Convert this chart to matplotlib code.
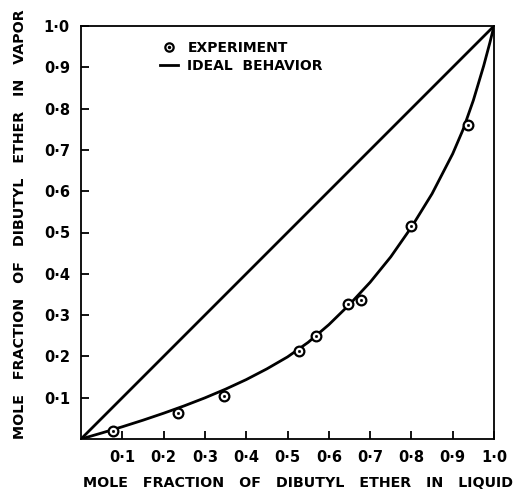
import matplotlib
matplotlib.use("Agg")
import matplotlib.pyplot as plt
from matplotlib.lines import Line2D

# experimental points (liquid x, vapor y)
x_exp = [0.078, 0.235, 0.347, 0.529, 0.570, 0.647, 0.677, 0.800, 0.936]
y_exp = [0.020, 0.062, 0.105, 0.212, 0.250, 0.327, 0.336, 0.515, 0.760]

# smooth curve
x_curve = [0.0, 0.05, 0.10, 0.15, 0.20, 0.25, 0.30, 0.35, 0.40, 0.45, 0.50,
           0.55, 0.60, 0.65, 0.70, 0.75, 0.80, 0.85, 0.90, 0.925, 0.95,
           0.975, 0.99, 1.0]
y_curve = [0.0, 0.0145, 0.0296, 0.0455, 0.0624, 0.0803, 0.0996, 0.1207,
           0.1438, 0.1698, 0.1987, 0.2340, 0.2767, 0.3256, 0.3794, 0.4410,
           0.5127, 0.5938, 0.6906, 0.749, 0.820, 0.9035, 0.9596, 1.0]

# ideal behavior
x_ideal = [0.0, 1.0]
y_ideal = [0.0, 1.0]

ticks = [0.1, 0.2, 0.3, 0.4, 0.5, 0.6, 0.7, 0.8, 0.9, 1.0]
tick_labels = ["0·1", "0·2", "0·3", "0·4", "0·5", "0·6", "0·7", "0·8", "0·9", "1·0"]

plt.rcParams['font.family'] = ['DejaVu Sans']
plt.rcParams['font.weight'] = 'bold'

fig = plt.figure(figsize=(5.18, 4.91), dpi=100)
ax = fig.add_axes([81/518, 52/491, 413/518, 413/491])

ax.plot(x_ideal, y_ideal, color='black', lw=2.0, solid_capstyle='butt')
ax.plot(x_curve, y_curve, color='black', lw=2.0, solid_joinstyle='round')
ax.plot(x_exp, y_exp, ls='none', marker='o', ms=7, mfc='white', mec='black', mew=1.6, zorder=3)
ax.plot(x_exp, y_exp, ls='none', marker='o', ms=1.6, mfc='black', mec='black', mew=0.5, zorder=4)

ax.set_xlim(0, 1.0)
ax.set_ylim(0, 1.0)
ax.set_xticks(ticks)
ax.set_xticklabels(tick_labels)
ax.set_yticks(ticks)
ax.set_yticklabels(tick_labels)
ax.tick_params(axis='both', direction='in', length=6, width=1.3, labelsize=10.5)
ax.tick_params(axis='x', pad=8)
ax.tick_params(axis='y', pad=8)
for lab in ax.get_xticklabels() + ax.get_yticklabels():
    lab.set_fontweight('bold')
for s in ax.spines.values():
    s.set_linewidth(1.3)

ax.set_xlabel("MOLE   FRACTION   OF   DIBUTYL   ETHER   IN   LIQUID",
              fontsize=10.3, fontweight='bold')
ax.xaxis.set_label_coords(0.525, -0.09)
ax.set_ylabel("MOLE   FRACTION   OF   DIBUTYL   ETHER   IN   VAPOR",
              fontsize=10.3, fontweight='bold')
ax.yaxis.set_label_coords(-0.13, 0.52)

h1 = (Line2D([], [], ls='none', marker='o', ms=6, mfc='white', mec='black', mew=1.6),
      Line2D([], [], ls='none', marker='o', ms=1.5, mfc='black', mec='black'))
h2 = Line2D([], [], color='black', lw=2.0)
ax.legend([h1, h2], ["EXPERIMENT", "IDEAL  BEHAVIOR"], loc='upper left',
          bbox_to_anchor=(0.16, 0.995), frameon=False, handlelength=1.3,
          handletextpad=0.7, labelspacing=0.3,
          prop={'weight': 'bold', 'size': 10})

fig.savefig("out.png", dpi=100)
